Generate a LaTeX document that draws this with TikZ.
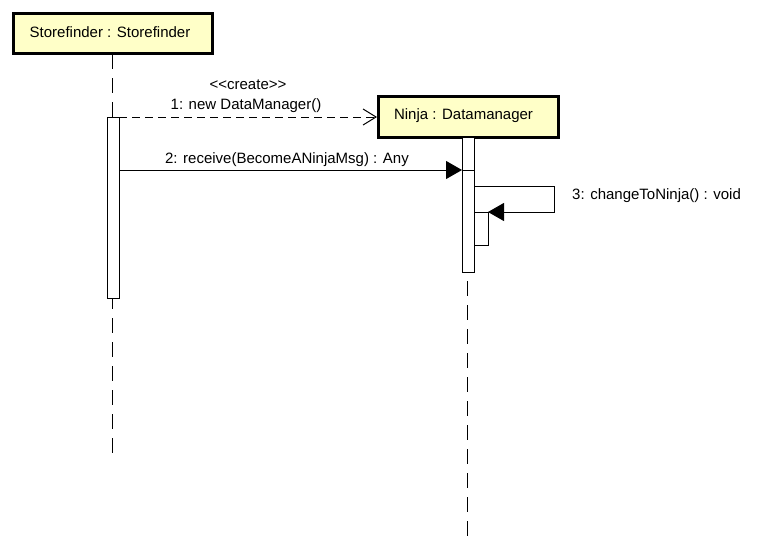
\documentclass[tikz,border=0pt]{standalone}
\usepackage{fontspec}
\setmainfont{Liberation Sans}
\usetikzlibrary{arrows.meta}
\definecolor{objfill}{RGB}{255,255,200}
\tikzset{
  obj/.style={draw=black, line width=3pt, fill=objfill, inner sep=0pt},
  life/.style={draw=black, line width=1pt, dash pattern=on 15pt off 9pt},
  act/.style={draw=black, line width=1pt, fill=white},
  lbl/.style={font=\fontsize{15}{17}\selectfont, inner sep=0pt},
  syncmsg/.style={draw=black, line width=1pt, -{Triangle[length=16pt,width=18pt]}},
  createmsg/.style={draw=black, line width=1pt, dash pattern=on 8pt off 5pt, -{Straight Barb[length=13pt,width=16pt,line width=1pt]}},
}
\begin{document}
\begin{tikzpicture}[x=1pt,y=-1pt]
\useasboundingbox (0,0) rectangle (766,550);
% object boxes
\path[obj] (13,13) rectangle (212,53);
\node[lbl] (sf) at (110,32) {Storefinder : Storefinder};
\path[obj] (378,96) rectangle (558,137);
\node[lbl] (dm) at (463.5,115.5) {Ninja : Datamanager};
% lifelines
\coordinate (sfTop) at (112,54);
\coordinate (sfBot) at (112,453);
\coordinate (dmTop) at (467,137);
\coordinate (dmBot) at (467,537);
\draw[life] (sfTop) -- (sfBot);
\draw[life] (dmTop) -- (dmBot);
% activations
\draw[act] (107,117) rectangle (119,298);
\draw[act] (462,137) rectangle (474,272);
\draw[black, line width=1pt] (462,170) -- (474,170);
\draw[act] (474,212) rectangle (488,245);
% messages
\coordinate (c1) at (119,117);
\coordinate (c2) at (377,117);
\draw[createmsg] (c1) -- (c2);
\node[lbl] at (248,85) {<{}<create>{}>};
\node[lbl] at (246,106) {1: new DataManager()};
\coordinate (r1) at (119,170);
\coordinate (r2) at (462,170);
\draw[syncmsg] (r1) -- (r2);
\node[lbl] at (287,160) {2: receive(BecomeANinjaMsg) : Any};
\coordinate (s1) at (474,186);
\coordinate (s2) at (488,212);
\draw[syncmsg] (s1) -- (554,186) -- (554,212) -- (s2);
\node[lbl, anchor=west] at (572,196) {3: changeToNinja() : void};
\end{tikzpicture}
\end{document}
